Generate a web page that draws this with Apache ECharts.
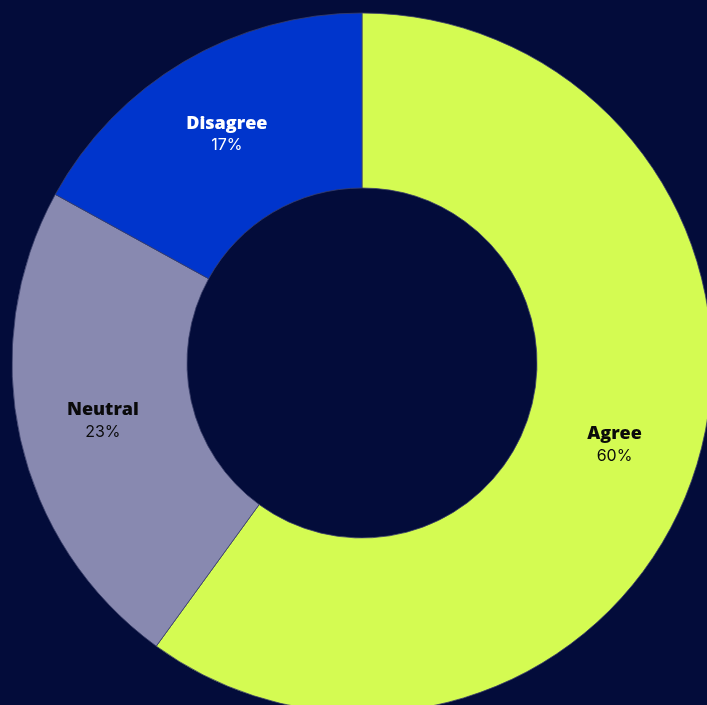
<!DOCTYPE html>
<html>
<head>
<meta charset="utf-8">
<script src="https://cdn.jsdelivr.net/npm/echarts@6/dist/echarts.min.js"></script>
<style>
  html, body { margin: 0; padding: 0; background: #030c3a; }
  #chart { width: 707px; height: 705px; }
</style>
</head>
<body>
<div id="chart"></div>
<script>
var categories = ['Agree', 'Neutral', 'Disagree'];
var values = [60, 23, 17];
var colorList = ['#d4fb52', '#8889b0', '#0035cc'];
var labelColors = ['#0a0a0a', '#0a0a0a', '#ffffff'];

var myChart = echarts.init(document.getElementById('chart'));

var data = categories.map(function (name, i) {
    return {
        name: name,
        value: values[i],
        itemStyle: { color: colorList[i] },
        label: { color: labelColors[i] }
    };
});

var option = {
    backgroundColor: '#030c3a',
    animation: false,
    series: [
        {
            type: 'pie',
            center: [362, 363],
            radius: [175, 350],
            startAngle: 90,
            clockwise: true,
            data: data,
            itemStyle: {
                borderColor: '#3a3f6a',
                borderWidth: 0.8
            },
            label: {
                position: 'inside',
                fontFamily: 'Inter, "Noto Sans", sans-serif',
                formatter: function (params) {
                    return '{b|' + params.name + '}\n{p|' + params.value + '%}';
                },
                rich: {
                    b: { fontSize: 18, fontWeight: 900, lineHeight: 26, fontFamily: '"Open Sans", Inter, sans-serif' },
                    p: { fontSize: 16, lineHeight: 22, padding: [0, 0, 4, 0] }
                }
            },
            labelLine: { show: false },
            emphasis: { disabled: true }
        }
    ]
};
myChart.setOption(option);
window.addEventListener('resize', function () {
    myChart.resize();
});
</script>
</body>
</html>
